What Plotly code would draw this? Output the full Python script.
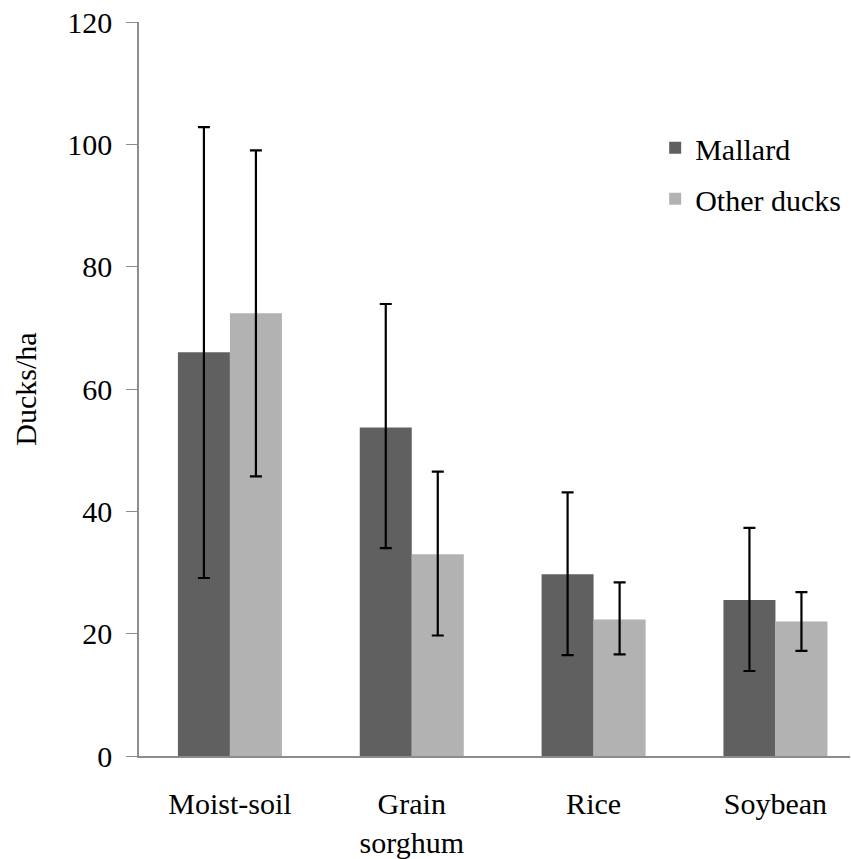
import plotly.graph_objects as go

categories = ["Moist-soil", "Grain<br>sorghum", "Rice", "Soybean"]
mallard = [66.0, 53.7, 29.7, 25.5]
mallard_upper = [102.8, 73.9, 43.1, 37.3]
mallard_lower = [29.1, 34.0, 16.5, 13.9]
other = [72.4, 33.0, 22.3, 22.0]
other_upper = [99.0, 46.5, 28.4, 26.8]
other_lower = [45.7, 19.7, 16.6, 17.2]
y_ticks = [0, 20, 40, 60, 80, 100, 120]

def err(vals, up, lo):
    return dict(type="data", symmetric=False,
                array=[u - v for u, v in zip(up, vals)],
                arrayminus=[v - l for v, l in zip(vals, lo)],
                color="black", thickness=2.2, width=6)

font = "Liberation Serif"
fs = 30

fig = go.Figure()
fig.add_trace(go.Bar(name="Mallard", x=categories, y=mallard,
                     marker=dict(color="#606060", line=dict(width=0)),
                     error_y=err(mallard, mallard_upper, mallard_lower),
                     legendgroup="a"))
fig.add_trace(go.Bar(name="Other ducks", x=categories, y=other,
                     marker=dict(color="#b2b2b2", line=dict(width=0)),
                     error_y=err(other, other_upper, other_lower),
                     legendgroup="b"))

fig.update_layout(
    width=851, height=859,
    margin=dict(l=139, r=1, t=22, b=103, autoexpand=False),
    paper_bgcolor="white", plot_bgcolor="white",
    barmode="group", bargap=0.428, bargroupgap=0,
    font=dict(family=font, size=fs, color="black"),
    legend=dict(x=0.726, y=0.864, xanchor="left", yanchor="top",
                bgcolor="rgba(0,0,0,0)", tracegroupgap=9,
                font=dict(family=font, size=fs), itemwidth=30),
    showlegend=True,
)
fig.update_xaxes(range=[-0.5, 3.41], showline=True, linecolor="#8c8c8c",
                 linewidth=1.5, ticks="", ticklabelstandoff=20,
                 tickfont=dict(family=font, size=fs))
fig.update_yaxes(range=[0, 120], tickvals=y_ticks, showline=True,
                 linecolor="#8c8c8c", linewidth=1.5, ticks="outside",
                 ticklen=11, tickcolor="#8c8c8c", showgrid=False,
                 zeroline=False, tickfont=dict(family=font, size=fs),
                 ticklabelstandoff=8,
                 title=dict(text="Ducks/ha", font=dict(family=font, size=fs),
                            standoff=22))

fig.write_html("out.html", config={"displayModeBar": False},
               post_script="document.body.style.margin='0';document.body.style.padding='0';")
